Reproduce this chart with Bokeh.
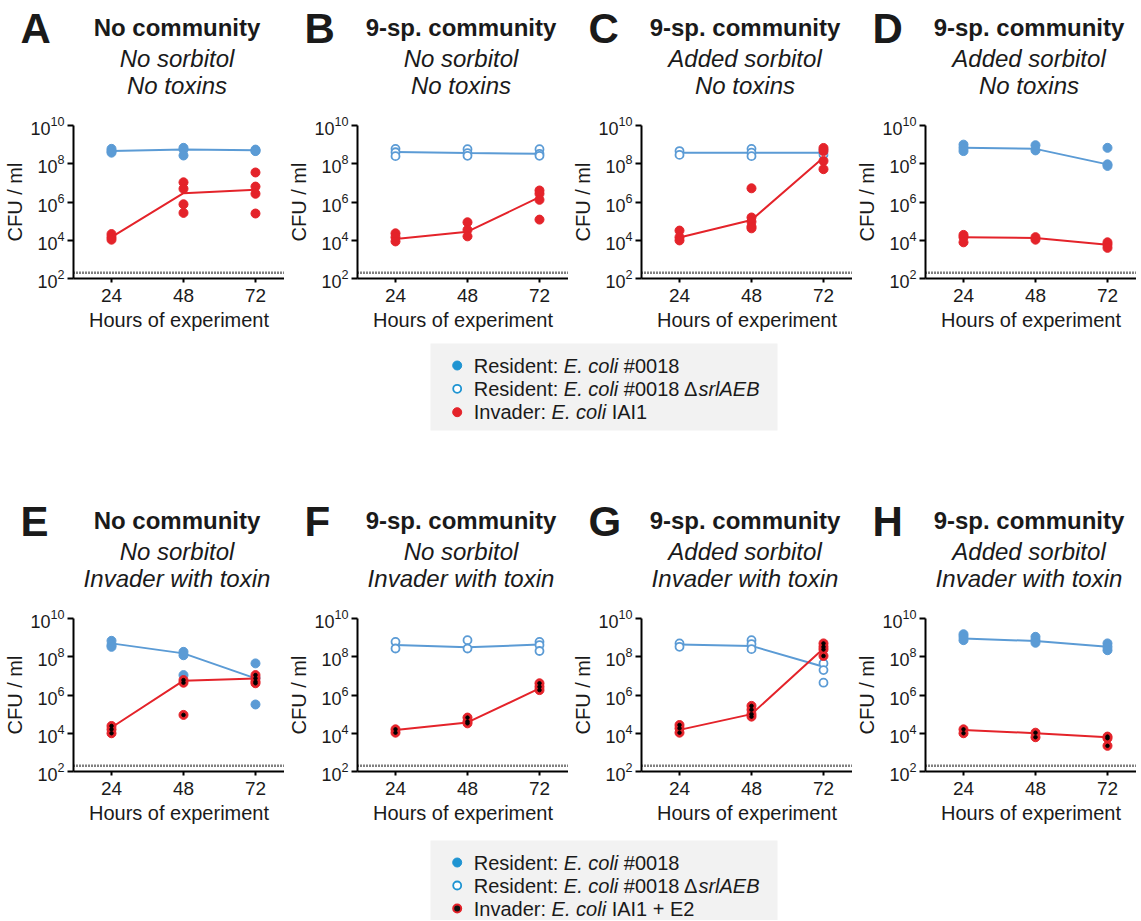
from bokeh.plotting import figure
from bokeh.models import Range1d, Span, FixedTicker, ColumnDataSource
from bokeh.layouts import column, row
from bokeh.embed import file_html
from bokeh.resources import INLINE
from bokeh.core.properties import value

# ---------------- data ----------------
hours = [24, 48, 72]
x_ticks = [24, 48, 72]
y_ticks = [1e2, 1e4, 1e6, 1e8, 1e10]
detection_limit = 200

letters = ["A", "B", "C", "D", "E", "F", "G", "H"]
community = ["No community", "9-sp. community", "9-sp. community", "9-sp. community"] * 2
sorbitol = ["No sorbitol", "No sorbitol", "Added sorbitol", "Added sorbitol"] * 2
toxins = ["No toxins"] * 4 + ["Invader with toxin"] * 4
resident_is_mutant = [False, True, True, False] * 2
invader_has_toxin = [False] * 4 + [True] * 4

A_resident = [[6.0e8, 4.6e8, 3.8e8], [6.8e8, 5.5e8, 2.7e8], [5.5e8, 4.8e8, 4.6e8]]
A_resident_mean = [4.6e8, 5.6e8, 5.1e8]
A_invader = [[2.1e4, 1.45e4, 1.07e4], [1.07e7, 4.9e6, 7.6e5, 2.7e5], [3.5e7, 6.4e6, 2.7e6, 2.5e5]]
A_invader_mean = [1.45e4, 2.9e6, 4.4e6]

B_resident = [[6.0e8, 4.0e8, 2.5e8], [5.8e8, 3.6e8, 2.6e8], [5.8e8, 3.3e8, 2.6e8]]
B_resident_mean = [4.1e8, 3.6e8, 3.3e8]
B_invader = [[2.3e4, 1.45e4, 8.7e3], [8.7e4, 3.5e4, 1.6e4], [4.0e6, 2.7e6, 1.3e6, 1.2e5]]
B_invader_mean = [1.15e4, 2.8e4, 1.8e6]

C_resident = [[4.6e8, 2.9e8], [6.0e8, 3.8e8, 2.5e8], [5.5e8, 3.0e8]]
C_resident_mean = [3.8e8, 3.8e8, 3.8e8]
C_invader = [[3.2e4, 1.45e4, 9.8e3], [5.2e6, 1.55e5, 9.3e4, 5.2e4, 4.2e4], [6.7e8, 4.6e8, 1.4e8, 5.2e7]]
C_invader_mean = [1.4e4, 1.15e5, 2.1e8]

D_resident = [[1.0e9, 6.8e8, 4.6e8], [9.3e8, 5.0e8], [6.8e8, 9.3e7, 7.7e7]]
D_resident_mean = [6.8e8, 6.0e8, 9.3e7]
D_invader = [[1.9e4, 1.45e4, 7.8e3], [1.45e4, 1.07e4], [7.8e3, 5.9e3, 4.0e3]]
D_invader_mean = [1.45e4, 1.3e4, 5.9e3]

E_resident = [[6.8e8, 4.1e8, 3.3e8], [1.8e8, 1.2e8, 1.1e7], [4.5e7, 8.0e6, 3.2e5]]
E_resident_mean = [5.0e8, 1.5e8, 7.4e6]
E_invader = [[2.4e4, 1.6e4, 1.0e4], [6.0e6, 4.4e6, 9.1e4], [1.1e7, 7.4e6, 5.0e6, 4.1e6]]
E_invader_mean = [2.0e4, 5.6e6, 7.4e6]

F_resident = [[6.0e8, 2.7e8], [7.4e8, 2.7e8], [6.0e8, 4.1e8, 2.0e8]]
F_resident_mean = [4.1e8, 3.1e8, 4.4e8]
F_invader = [[1.6e4, 1.07e4], [6.6e4, 4.1e4, 3.3e4], [4.1e6, 2.7e6, 1.8e6]]
F_invader_mean = [1.5e4, 3.7e4, 2.2e6]

G_resident = [[5.0e8, 3.3e8], [7.4e8, 4.6e8, 2.5e8], [4.5e7, 2.0e7, 4.4e6]]
G_resident_mean = [4.4e8, 3.7e8, 3.0e7]
G_invader = [[2.7e4, 1.8e4, 1.07e4], [2.7e5, 1.7e5, 1.0e5, 7.4e4], [5.0e8, 3.3e8, 2.4e8, 1.1e8]]
G_invader_mean = [1.5e4, 1.0e5, 2.7e8]

H_resident = [[1.5e9, 1.1e9, 7.4e8], [1.1e9, 7.4e8, 5.4e8], [5.0e8, 3.3e8, 2.2e8]]
H_resident_mean = [9.1e8, 6.6e8, 3.3e8]
H_invader = [[1.6e4, 1.0e4], [1.07e4, 6.2e3], [6.7e3, 5.5e3, 2.2e3]]
H_invader_mean = [1.5e4, 1.0e4, 6.2e3]

legend_top_entries = [
    [("Resident: ", "normal"), ("E. coli", "italic"), (" #0018", "normal")],
    [("Resident: ", "normal"), ("E. coli", "italic"), (" #0018 \u0394", "normal"), ("srlAEB", "italic")],
    [("Invader: ", "normal"), ("E. coli", "italic"), (" IAI1", "normal")],
]
legend_bottom_entries = [
    [("Resident: ", "normal"), ("E. coli", "italic"), (" #0018", "normal")],
    [("Resident: ", "normal"), ("E. coli", "italic"), (" #0018 \u0394", "normal"), ("srlAEB", "italic")],
    [("Invader: ", "normal"), ("E. coli", "italic"), (" IAI1 + E2", "normal")],
]

# ---------------- style / layout ----------------
FONT = "Liberation Sans"
TXT = "#1a1a1a"
BLUE = "#5b9bd5"
RED = "#e4232a"
LEG_BLUE = "#1f94d2"
FIG_W = 284
TOTAL_W = FIG_W * 4
BORDER_L, BORDER_T, FRAME_H, BORDER_B = 73, 12, 153, 60
FIG_H = BORDER_T + FRAME_H + BORDER_B
HEADER_H = 113
X_START, X_END = 11.33, 81.67

ARIAL_W = {' ': 278, '#': 556, '+': 584, '.': 278, ':': 278, '0': 556, '1': 556, '2': 556,
           '8': 556, 'A': 667, 'B': 667, 'E': 667, 'I': 278, 'R': 722, '\u0394': 668,
           'a': 556, 'c': 500, 'd': 556, 'e': 556, 'i': 222, 'l': 222, 'n': 556, 'o': 556,
           'r': 333, 's': 500, 't': 278, 'v': 500}


def text_width(s, size):
    return sum(ARIAL_W.get(c, 556) for c in s) * size / 1000.0


def flatten(groups):
    xs, ys = [], []
    for h, vals in zip(hours, groups):
        for v in vals:
            xs.append(h)
            ys.append(v)
    return xs, ys


def pixel_figure(width, height):
    p = figure(width=width, height=height, x_range=Range1d(0, width), y_range=Range1d(height, 0),
               x_axis_type=None, y_axis_type=None, output_backend="svg",
               toolbar_location=None, min_border=0)
    p.outline_line_color = None
    return p


def make_header(idx):
    p = pixel_figure(TOTAL_W, HEADER_H)
    groups = {
        ("bold", "42px"): dict(x=[], y=[], t=[], a=[]),
        ("bold", "24px"): dict(x=[], y=[], t=[], a=[]),
        ("italic", "24px"): dict(x=[], y=[], t=[], a=[]),
    }
    for j, i in enumerate(idx):
        fl = j * FIG_W + BORDER_L
        g = groups[("bold", "42px")]
        g["x"].append(fl - 53); g["y"].append(28); g["t"].append(letters[i]); g["a"].append("left")
        g = groups[("bold", "24px")]
        g["x"].append(fl + 103.5); g["y"].append(27); g["t"].append(community[i]); g["a"].append("center")
        g = groups[("italic", "24px")]
        g["x"].append(fl + 103.5); g["y"].append(57.5); g["t"].append(sorbitol[i]); g["a"].append("center")
        g["x"].append(fl + 103.5); g["y"].append(85); g["t"].append(toxins[i]); g["a"].append("center")
    for (style, size), d in groups.items():
        p.text(x="x", y="y", text="t", text_align="a", source=ColumnDataSource(d),
               text_font=value(FONT), text_font_style=style, text_font_size=size,
               text_color=TXT, text_baseline="middle")
    return p


def make_panel(i, res_pts, res_mean, inv_pts, inv_mean):
    p = figure(width=FIG_W, height=FIG_H, x_range=Range1d(X_START, X_END),
               y_range=Range1d(1e2, 1e10), y_axis_type="log",
               output_backend="svg", toolbar_location=None,
               min_border_left=BORDER_L, min_border_right=0,
               min_border_top=BORDER_T, min_border_bottom=BORDER_B)
    p.outline_line_color = None
    p.xgrid.visible = False
    p.ygrid.visible = False
    for ax in (p.xaxis[0], p.yaxis[0]):
        ax.axis_line_width = 2
        ax.axis_line_color = "black"
        ax.major_tick_line_width = 2
        ax.major_tick_line_color = "black"
        ax.minor_tick_line_color = None
        ax.major_tick_in = 0
        ax.major_label_text_font = FONT
        ax.major_label_text_color = TXT
        ax.axis_label_text_font = FONT
        ax.axis_label_text_font_style = "normal"
        ax.axis_label_text_font_size = "20px"
        ax.axis_label_text_color = TXT
    p.xaxis.ticker = FixedTicker(ticks=x_ticks)
    p.yaxis.ticker = FixedTicker(ticks=y_ticks)
    p.xaxis.major_tick_out = 4
    p.xaxis.major_label_standoff = 6
    p.xaxis.major_label_text_font_size = "19px"
    p.xaxis.axis_label = "Hours of experiment"
    p.xaxis.axis_label_standoff = 4
    p.yaxis.major_tick_out = 6
    p.yaxis.major_label_standoff = 3
    p.yaxis.major_label_text_font_size = "18px"
    p.yaxis.axis_label = "CFU / ml"
    p.yaxis.axis_label_standoff = 1

    p.add_layout(Span(location=detection_limit, dimension="width", line_color="black",
                      line_width=2.5, line_dash="1 2"))

    rx, ry = flatten(res_pts)
    ix, iy = flatten(inv_pts)
    p.line(hours, res_mean, line_color=BLUE, line_width=2)
    p.line(hours, inv_mean, line_color=RED, line_width=2)
    if resident_is_mutant[i]:
        p.scatter(rx, ry, marker="circle", size=8, fill_color="white", line_color=BLUE, line_width=1.8)
    else:
        p.scatter(rx, ry, marker="circle", size=9, fill_color=BLUE, line_color=BLUE)
    p.scatter(ix, iy, marker="circle", size=9, fill_color=RED, line_color=RED)
    if invader_has_toxin[i]:
        p.scatter(ix, iy, marker="circle", size=3.5, fill_color="black", line_color="black")
    return p


def make_legend(height, box_top, box_bottom, row_ys, entries, toxin):
    p = pixel_figure(TOTAL_W, height)
    box_left, box_right = 430, 777
    p.quad(left=[box_left], right=[box_right], top=[box_top], bottom=[box_bottom],
           fill_color="#f2f2f2", line_color=None)
    mx = box_left + 26.7
    p.scatter([mx], [row_ys[0]], marker="circle", size=9, fill_color=LEG_BLUE, line_color=LEG_BLUE)
    p.scatter([mx], [row_ys[1]], marker="circle", size=8, fill_color="white", line_color=LEG_BLUE, line_width=1.8)
    if toxin:
        p.scatter([mx], [row_ys[2]], marker="circle", size=8, fill_color="#111111", line_color=RED, line_width=2)
    else:
        p.scatter([mx], [row_ys[2]], marker="circle", size=9, fill_color=RED, line_color=RED)
    data = {"normal": dict(x=[], y=[], t=[]), "italic": dict(x=[], y=[], t=[])}
    for y, segs in zip(row_ys, entries):
        x = box_left + 43.3
        for s, style in segs:
            lead = len(s) - len(s.lstrip(" "))
            data[style]["x"].append(x + text_width(" " * lead, 20))
            data[style]["y"].append(y)
            data[style]["t"].append(s.strip(" "))
            x += text_width(s, 20)
    for style, d in data.items():
        p.text(x="x", y="y", text="t", source=ColumnDataSource(d), text_font=value(FONT),
               text_font_style=style, text_font_size="20px", text_color=TXT,
               text_align="left", text_baseline="middle")
    return p


panel_data = [
    (A_resident, A_resident_mean, A_invader, A_invader_mean),
    (B_resident, B_resident_mean, B_invader, B_invader_mean),
    (C_resident, C_resident_mean, C_invader, C_invader_mean),
    (D_resident, D_resident_mean, D_invader, D_invader_mean),
    (E_resident, E_resident_mean, E_invader, E_invader_mean),
    (F_resident, F_resident_mean, F_invader, F_invader_mean),
    (G_resident, G_resident_mean, G_invader, G_invader_mean),
    (H_resident, H_resident_mean, H_invader, H_invader_mean),
]
panels = [make_panel(i, *d) for i, d in enumerate(panel_data)]

top_row_end = HEADER_H + FIG_H
bottom_header_top = 493
legend_top_h = bottom_header_top - top_row_end
legend_top = make_legend(legend_top_h, 343 - top_row_end, 430 - top_row_end,
                         [365 - top_row_end, 388.3 - top_row_end, 411.7 - top_row_end],
                         legend_top_entries, False)
bottom_row_end = bottom_header_top + HEADER_H + FIG_H
legend_bottom_h = 920 - bottom_row_end
legend_bottom = make_legend(legend_bottom_h, 840 - bottom_row_end, legend_bottom_h,
                            [862 - bottom_row_end, 885 - bottom_row_end, 908 - bottom_row_end],
                            legend_bottom_entries, True)

layout = column(make_header([0, 1, 2, 3]), row(*panels[:4]), legend_top,
                make_header([4, 5, 6, 7]), row(*panels[4:]), legend_bottom)

with open("out.html", "w") as f:
    f.write(file_html(layout, INLINE))
